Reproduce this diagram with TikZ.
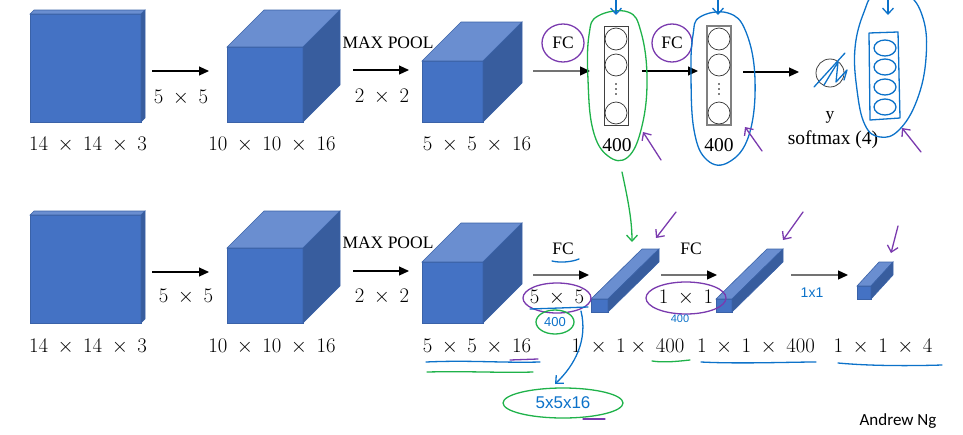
\documentclass[tikz,border=0pt]{standalone}
\usepackage{fontspec}
\setmainfont{Liberation Serif}
\newfontfamily\andrewfont{Carlito}
\newfontfamily\handfont{Liberation Sans}
\usetikzlibrary{arrows.meta,calc}
\definecolor{cfront}{HTML}{4472C4}
\definecolor{ctop}{HTML}{6A8ED0}
\definecolor{cside}{HTML}{385D9E}
\definecolor{cedge}{HTML}{3A62A8}
\definecolor{hgreen}{HTML}{1FB24A}
\definecolor{hblue}{HTML}{0C72C9}
\definecolor{hpurple}{HTML}{7A3AAE}
\newcommand{\blockfaces}[3]{%
  \filldraw[topface] (#1.north west) -- ++(#2,-#3) -- ($(#1.north east)+(#2,-#3)$) -- (#1.north east) -- cycle;
  \filldraw[sideface] (#1.north east) -- ++(#2,-#3) -- ($(#1.south east)+(#2,-#3)$) -- (#1.south east) -- cycle;
}
\begin{document}
\begin{tikzpicture}[x=1pt,y=-1pt,
  front/.style={draw=cedge, fill=cfront, line width=0.6pt, inner sep=0, outer sep=0, anchor=north west},
  topface/.style={draw=cedge, fill=ctop, line width=0.6pt},
  sideface/.style={draw=cedge, fill=cside, line width=0.6pt},
  lab/.style={font=\fontsize{19.5}{22}\selectfont, inner sep=0},
  txt/.style={font=\fontsize{17.5}{20}\selectfont, inner sep=0},
  arr/.style={line width=1.1pt, -{Triangle[length=10pt,width=9pt]}},
  garr/.style={line width=1.3pt, draw=black!55, -{Triangle[length=10pt,width=9pt,color=black]}},
  col/.style={draw=black!75, line width=0.9pt, inner sep=0, minimum width=24pt, minimum height=99pt},
  neu/.style={circle, draw=black!80, line width=0.7pt, minimum size=22pt, inner sep=0},
  hand/.style={line width=1.3pt, line cap=round, line join=round},
  harr/.style={hand, -{Straight Barb[length=6pt,width=11pt]}},
  hw/.style={font=\handfont\fontsize{13}{15}\selectfont, text=hblue, inner sep=0}
]
\useasboundingbox (0,0) rectangle (963,434);

% ---------- row 1 ----------
\node[front, minimum width=111pt, minimum height=108pt] (c1) at (30,14) {};
\blockfaces{c1}{4}{4}
\node[front, minimum width=76pt, minimum height=75pt] (c2) at (227,47) {};
\blockfaces{c2}{37}{37}
\node[front, minimum width=61pt, minimum height=61pt] (c3) at (422,61) {};
\blockfaces{c3}{39}{39}

\coordinate (a1s) at (152,71); \coordinate (a1e) at (209,71);
\coordinate (a2s) at (353,70); \coordinate (a2e) at (409,70);
\coordinate (a3s) at (533,71); \coordinate (a3e) at (590,71);
\coordinate (a4s) at (642,71); \coordinate (a4e) at (698,71);
\coordinate (a5s) at (743,72); \coordinate (a5e) at (799,72);
\draw[arr] (a1s) -- (a1e);
\draw[arr] (a2s) -- (a2e);
\draw[garr] (a3s) -- (a3e);
\draw[arr] (a4s) -- (a4e);
\draw[arr] (a5s) -- (a5e);

\node[lab] (l11) at (88,145) {$14\ \times\ 14\ \times\ 3$};
\node[lab] (l12) at (181,98) {$5\ \times\ 5$};
\node[lab] (l13) at (272,145) {$10\ \times\ 10\ \times\ 16$};
\node[txt] (mp1) at (388,43) {MAX POOL};
\node[lab] (l14) at (382,97) {$2\ \times\ 2$};
\node[lab] (l15) at (477,145) {$5\ \times\ 5\ \times\ 16$};

\node[col] (n1) at (616,75.5) {};
\node[neu] (n1a) at (616,39) {};
\node[neu] (n1b) at (616,65) {};
\node[neu] (n1c) at (616,113) {};
\node[col, draw=black!50, line width=1.2pt] (n2) at (719,75.5) {};
\node[neu] (n2a) at (719,39) {};
\node[neu] (n2b) at (719,65) {};
\node[neu] (n2c) at (719,113) {};
\foreach \xx in {616,719} \foreach \yy in {84,89,94} \fill (\xx,\yy) circle [radius=0.9];
\node[lab] (l16) at (617,145) {400};
\node[lab] (l17) at (719,145) {400};
\node[txt] (fc1) at (563,43) {FC};
\node[txt] (fc2) at (672,43) {FC};
\node[circle, draw=black!75, line width=0.8pt, minimum size=28pt, inner sep=0] (yc) at (830,73) {};
\node[txt] (ylab) at (830,117) {y};
\node[txt, font=\fontsize{19.5}{22}\selectfont] (sm) at (833,140) {softmax (4)};

% ---------- row 2 ----------
\node[front, minimum width=111pt, minimum height=108pt] (d1) at (30,215) {};
\blockfaces{d1}{4}{4}
\node[front, minimum width=76pt, minimum height=75pt] (d2) at (227,248) {};
\blockfaces{d2}{37}{37}
\node[front, minimum width=61pt, minimum height=61pt] (d3) at (422,262) {};
\blockfaces{d3}{39}{39}
\node[front, minimum width=17pt, minimum height=13pt] (s1) at (591,299) {};
\blockfaces{s1}{51}{50}
\node[front, minimum width=16pt, minimum height=13pt] (s2) at (716,299) {};
\blockfaces{s2}{51}{50}
\node[front, minimum width=14pt, minimum height=13pt] (s3) at (857,286) {};
\blockfaces{s3}{22}{24}

\coordinate (b1s) at (152,272); \coordinate (b1e) at (209,272);
\coordinate (b2s) at (353,271); \coordinate (b2e) at (409,271);
\coordinate (b3s) at (533,275); \coordinate (b3e) at (589,275);
\coordinate (b4s) at (661,275); \coordinate (b4e) at (717,275);
\coordinate (b5s) at (791,275); \coordinate (b5e) at (848,275);
\draw[arr] (b1s) -- (b1e);
\draw[arr] (b2s) -- (b2e);
\draw[garr] (b3s) -- (b3e);
\draw[garr] (b4s) -- (b4e);
\draw[garr] (b5s) -- (b5e);

\node[lab] (m11) at (88,347) {$14\ \times\ 14\ \times\ 3$};
\node[lab] (m12) at (186,297) {$5\ \times\ 5$};
\node[lab] (m13) at (272,347) {$10\ \times\ 10\ \times\ 16$};
\node[txt] (mp2) at (388,243) {MAX POOL};
\node[lab] (m14) at (382,297) {$2\ \times\ 2$};
\node[lab] (m15) at (477,347) {$5\ \times\ 5\ \times\ 16$};
\node[txt] (fc3) at (563,249) {FC};
\node[txt] (fc4) at (691,249) {FC};
\node[lab] (m16) at (557,298) {$5\ \times\ 5$};
\node[lab] (m17) at (686,298) {$1\ \times\ 1$};
\node[lab] (m18) at (628,347) {$1\ \times\ 1\times\ 400$};
\node[lab] (m19) at (756,347) {$1\ \times\ 1\ \times\ 400$};
\node[lab] (m20) at (883,347) {$1\ \times\ 1\ \times\ 4$};
\node[font=\andrewfont\fontsize{17}{20}\selectfont, inner sep=0] (ang) at (898,421) {Andrew Ng};

% ---------- hand annotations, row 1 ----------
\draw[hand, hpurple] (fc1) ellipse [x radius=21, y radius=19];
\draw[hand, hpurple] (fc2) ellipse [x radius=20, y radius=19];
\draw[hand, hgreen] plot[smooth cycle, tension=0.7] coordinates {(598,16) (628,12) (641,32) (647,78) (642,126) (628,157) (608,156) (593,130) (588,80) (589,35)};
\draw[hand, hblue] plot[smooth cycle, tension=0.7] coordinates {(700,17) (728,13) (746,32) (755,80) (749,135) (729,162) (707,160) (694,130) (691,72) (693,35)};
\draw[hand, hblue] plot[smooth cycle, tension=0.7] coordinates {(864,12) (876,-6) (906,-6) (923,18) (926,58) (917,100) (899,130) (880,137) (865,125) (857,90) (855,48)};
\draw[hand, hblue] (869,33) -- (898,32) -- (900,118) -- (870,120) -- cycle;
\foreach \yy in {48,67,87,107} \draw[hand, hblue] (885,\yy) ellipse [x radius=11, y radius=8];
\draw[harr, hblue] (616,0) -- (616,15);
\draw[harr, hblue] (718,0) -- (718,15);
\draw[harr, hblue] (888,0) -- (888,15);
\draw[hand, hblue] (814,87) -- (845,53);
\draw[hand, hblue] (824,85) .. controls (830,75) .. (838,62) -- (836,82) -- (847,70) -- (844,80);
\draw[harr, hpurple] (661,160) -- (643,132);
\draw[harr, hpurple] (762,151) -- (745,127);
\draw[harr, hpurple] (921,152) -- (902,128);

% ---------- hand annotations, row 2 ----------
\draw[harr, hgreen] (622,172) .. controls (628,200) and (632,220) .. (632,242);
\draw[harr, hpurple] (676,212) -- (656,238);
\draw[harr, hpurple] (803,212) -- (783,240);
\draw[harr, hpurple] (898,226) -- (891,253);
\draw[hand, hblue] (552,261) .. controls (560,263) and (572,262) .. (579,259);
\draw[hand, hpurple] (m16) ellipse [x radius=34, y radius=15];
\draw[hand, hblue] (530,309) -- (588,307);
\draw[hand, hpurple] (m17) ellipse [x radius=40, y radius=16];
\node[hw] (h400a) at (555,322) {400};
\draw[hand, hgreen] (h400a) ellipse [x radius=19, y radius=12];
\node[hw, font=\handfont\fontsize{11}{13}\selectfont] (h400b) at (680,319) {400};
\node[hw, font=\handfont\fontsize{14}{16}\selectfont] (h11) at (812,293) {1x1};
\node[hw, font=\handfont\fontsize{17}{20}\selectfont] (h5516) at (563,403) {5x5x16};
\draw[hand, hgreen] (h5516) ellipse [x radius=60, y radius=15];
\draw[harr, hblue] (581,311) .. controls (588,340) and (575,365) .. (555,384);
\draw[hand, hpurple] (583,419) -- (605,419);
\draw[hand, hblue] (426,362) .. controls (470,360) and (500,363) .. (540,362);
\draw[hand, hgreen] (427,372) .. controls (470,371) and (500,373) .. (533,372);
\draw[hand, hpurple] (510,360) -- (538,359);
\draw[hand, hgreen] (652,361) .. controls (665,363) and (680,361) .. (690,360);
\draw[hand, hblue] (701,362) .. controls (740,364) and (790,362) .. (816,362);
\draw[hand, hblue] (838,363) .. controls (870,366) and (910,366) .. (942,365);
\end{tikzpicture}
\end{document}
